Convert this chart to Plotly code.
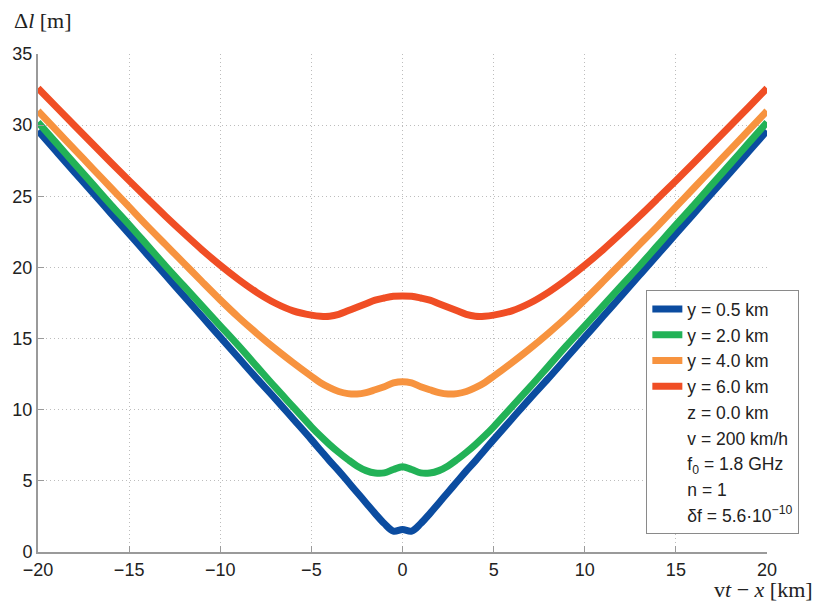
import plotly.graph_objects as go

# ---- data ----
x_vals = [-20, -19, -18, -17, -16, -15, -14, -13, -12, -11, -10, -9, -8, -7, -6,
          -5, -4.5, -4, -3.5, -3, -2.5, -2, -1.5, -1, -0.5, 0,
          0.5, 1, 1.5, 2, 2.5, 3, 3.5, 4, 4.5, 5,
          6, 7, 8, 9, 10, 11, 12, 13, 14, 15, 16, 17, 18, 19, 20]

blue_y = [29.6, 28.15, 26.7, 25.25, 23.8, 22.35, 20.9, 19.45, 18.0, 16.55, 15.1, 13.65, 12.2, 10.8, 9.35,
          7.9, 7.15, 6.4, 5.7, 4.95, 4.2, 3.45, 2.7, 2.0, 1.47, 1.58,
          1.47, 2.0, 2.7, 3.45, 4.2, 4.95, 5.7, 6.4, 7.15, 7.9,
          9.35, 10.8, 12.2, 13.65, 15.1, 16.55, 18.0, 19.45, 20.9, 22.35, 23.8, 25.25, 26.7, 28.15, 29.6]

green_y = [30.2, 28.75, 27.3, 25.85, 24.4, 23.0, 21.55, 20.1, 18.7, 17.3, 15.9, 14.5, 13.05, 11.6, 10.2,
           8.8, 8.15, 7.55, 7.0, 6.5, 6.05, 5.72, 5.55, 5.56, 5.8, 6.0,
           5.8, 5.56, 5.55, 5.72, 6.05, 6.5, 7.0, 7.55, 8.15, 8.8,
           10.2, 11.6, 13.05, 14.5, 15.9, 17.3, 18.7, 20.1, 21.55, 23.0, 24.4, 25.85, 27.3, 28.75, 30.2]

orange_y = [31.0, 29.65, 28.3, 26.95, 25.6, 24.25, 22.9, 21.6, 20.3, 19.0, 17.72, 16.5, 15.37, 14.3, 13.3,
            12.35, 11.9, 11.55, 11.28, 11.13, 11.1, 11.2, 11.4, 11.62, 11.88, 11.97,
            11.88, 11.62, 11.4, 11.2, 11.1, 11.13, 11.28, 11.55, 11.9, 12.35,
            13.3, 14.3, 15.37, 16.5, 17.72, 19.0, 20.3, 21.6, 22.9, 24.25, 25.6, 26.95, 28.3, 29.65, 31.0]

red_y = [32.6, 31.28, 29.97, 28.67, 27.38, 26.1, 24.84, 23.6, 22.4, 21.24, 20.15, 19.15, 18.25, 17.5, 16.95,
         16.65, 16.57, 16.57, 16.7, 16.95, 17.2, 17.45, 17.7, 17.85, 17.97, 18.0,
         17.97, 17.85, 17.7, 17.45, 17.2, 16.95, 16.7, 16.57, 16.57, 16.65,
         16.95, 17.5, 18.25, 19.15, 20.15, 21.24, 22.4, 23.6, 24.84, 26.1, 27.38, 28.67, 29.97, 31.28, 32.6]

series_names = ["y = 0.5 km", "y = 2.0 km", "y = 4.0 km", "y = 6.0 km"]
series_colors = ["#0b4ca0", "#22b257", "#f7933f", "#f04e25"]
extra_labels = ["z = 0.0 km", "v = 200 km/h", "f<sub>0</sub> = 1.8 GHz", "n = 1",
                "δf = 5.6·10<sup>−10</sup>"]

x_ticks = [-20, -15, -10, -5, 0, 5, 10, 15, 20]
y_ticks = [0, 5, 10, 15, 20, 25, 30, 35]

fig = go.Figure()
for ys, name, col in zip([blue_y, green_y, orange_y, red_y], series_names, series_colors):
    fig.add_trace(go.Scatter(x=x_vals, y=ys, mode="lines", name=name,
                             line=dict(color=col, width=7, shape="spline", smoothing=1.0)))
for lab in extra_labels:
    fig.add_trace(go.Scatter(x=[None], y=[None], mode="lines", name=lab,
                             line=dict(color="rgba(0,0,0,0)", width=7)))

axis_common = dict(
    showgrid=True, gridcolor="#bdbdbd", griddash="1px,3px", gridwidth=1,
    showline=True, linecolor="#9a9a9a", linewidth=2,
    ticks="inside", ticklen=6, tickcolor="#9a9a9a", tickwidth=1,
    zeroline=False, mirror=False,
    tickfont=dict(family="Liberation Sans, Arial, sans-serif", size=18, color="#222"),
)
fig.update_xaxes(range=[-20, 20], tickvals=x_ticks, **axis_common)
fig.update_yaxes(range=[0, 35], tickvals=y_ticks, **axis_common)

fig.update_layout(
    width=818, height=606,
    margin=dict(l=36, r=51, t=54, b=54),
    plot_bgcolor="white", paper_bgcolor="white",
    showlegend=True,
    legend=dict(
        x=0.8345, y=0.526, xanchor="left", yanchor="top",
        bgcolor="white", bordercolor="#8a8a8a", borderwidth=1,
        font=dict(family="Liberation Sans, Arial, sans-serif", size=17.5, color="#222"),
        itemwidth=30, tracegroupgap=0,
    ),
    annotations=[
        dict(text="Δ<i>l</i> [m]", xref="paper", yref="paper", x=-0.0356, y=1.068,
             xanchor="left", yanchor="middle", showarrow=False,
             font=dict(family="Liberation Serif, DejaVu Serif, serif", size=22, color="#222")),
        dict(text="v<i>t</i> − <i>x</i> [km]", xref="paper", yref="paper", x=1.0657, y=-0.0763,
             xanchor="right", yanchor="middle", showarrow=False,
             font=dict(family="Liberation Serif, DejaVu Serif, serif", size=22, color="#222")),
    ],
)

fig.write_html("out.html")
